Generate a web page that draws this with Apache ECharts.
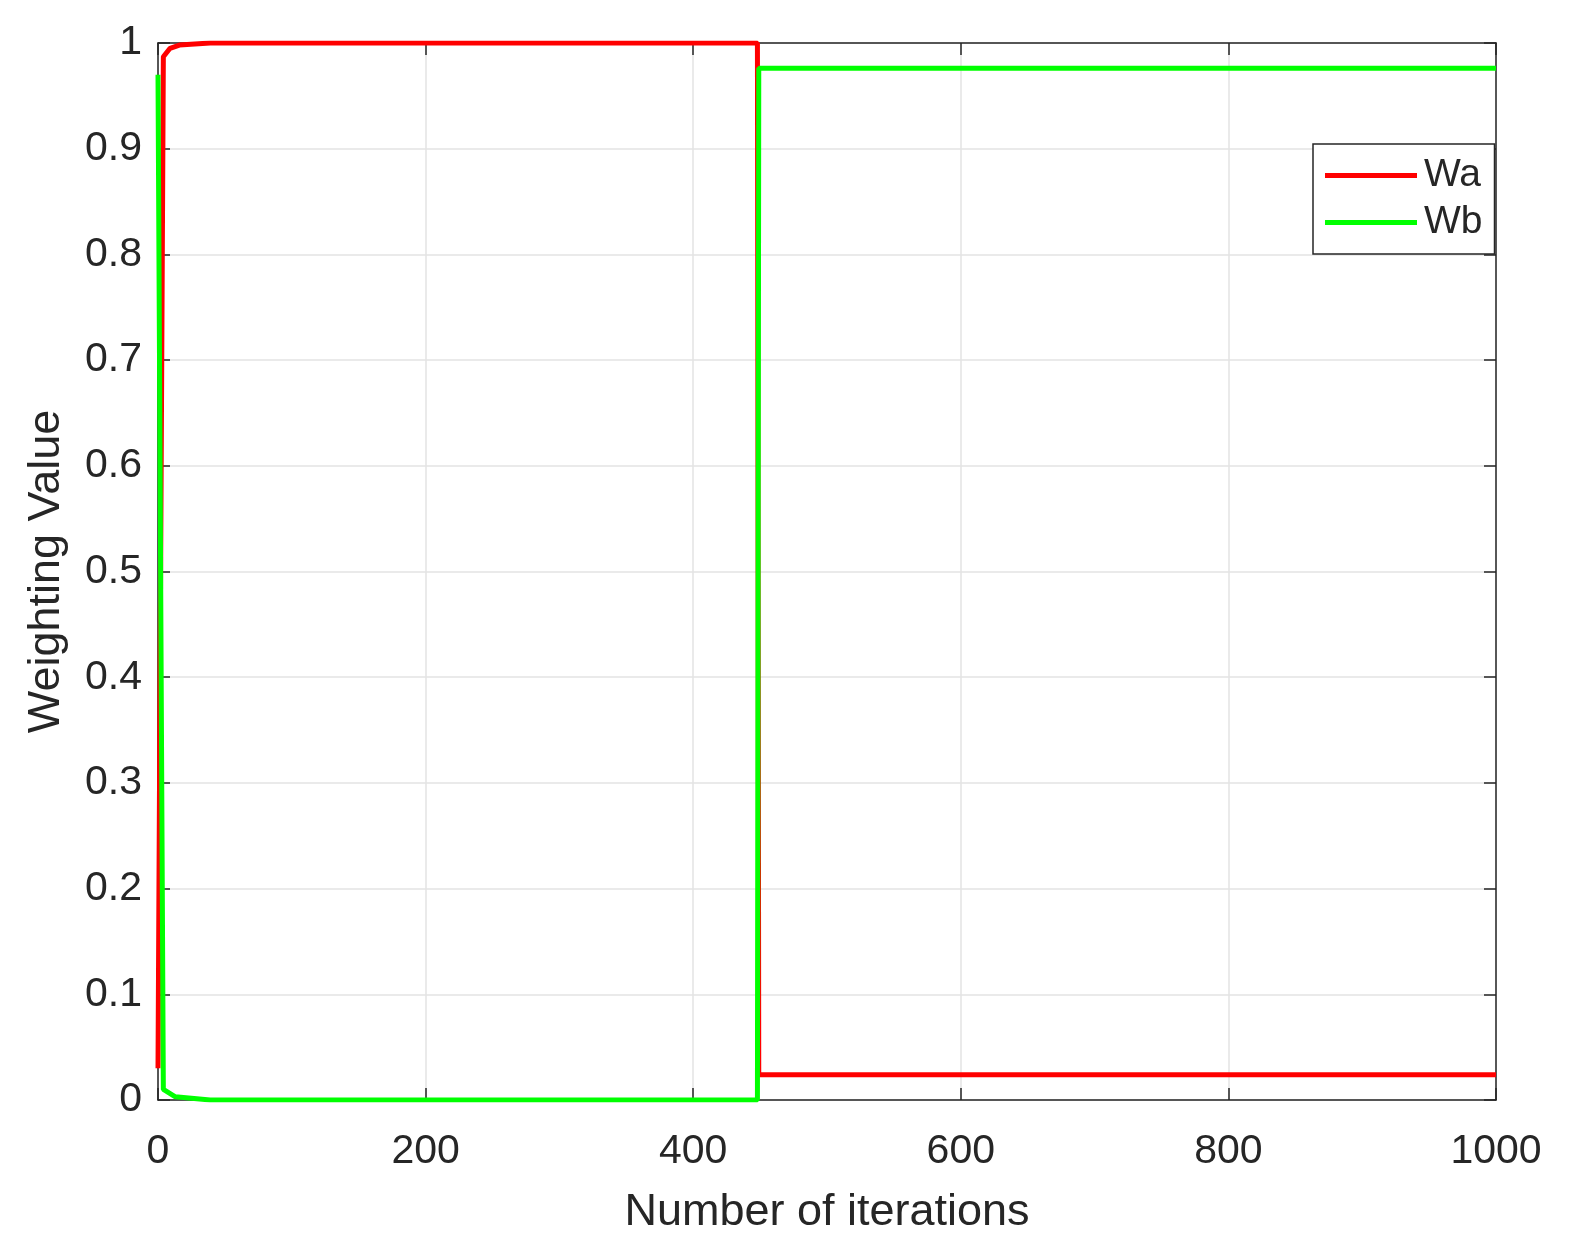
<!DOCTYPE html>
<html style="height: 100%">
<head>
    <meta charset="utf-8">
    <title>Weighting Value</title>
    <script src="https://cdn.jsdelivr.net/npm/echarts@6/dist/echarts.min.js"></script>
</head>
<body style="height: 100%; margin: 0; background: #fff">
    <div id="container" style="width: 1570px; height: 1255px"></div>
    <script type="text/javascript">
        // values: [iteration, weight]
        var waData = [[0, 0.03], [4, 0.987], [9, 0.995], [16, 0.998], [39, 1], [448, 1], [449, 0.024], [1000, 0.024]];
        var wbData = [[0, 0.97], [4, 0.01], [13, 0.003], [39, 0], [448, 0], [449, 0.976], [1000, 0.976]];
        var seriesNames = ['Wa', 'Wb'];
        var seriesColors = ['#ff0000', '#00ff00'];

        var axisColor = '#262626';
        var font = 'Liberation Sans, Arial, Helvetica, sans-serif';

        var myChart = echarts.init(document.getElementById('container'));

        var option = {
            animation: false,
            backgroundColor: '#fff',
            grid: { left: 158, right: 74, top: 43, bottom: 155 },
            legend: {
                left: 1313, top: 144,
                orient: 'vertical',
                data: seriesNames,
                icon: 'rect',
                padding: [12, 12, 12, 12],
                itemGap: 8,
                itemWidth: 92,
                itemHeight: 5,
                backgroundColor: '#fff',
                borderColor: axisColor,
                borderWidth: 1.5,
                borderRadius: 0,
                textStyle: { fontFamily: font, fontSize: 39, color: axisColor, padding: [0, 0, 0, 2] }
            },
            xAxis: [{
                type: 'value', min: 0, max: 1000, interval: 200,
                name: 'Number of iterations', nameLocation: 'middle', nameGap: 90,
                nameTextStyle: { fontFamily: font, fontSize: 45, color: axisColor },
                axisLine: { onZero: false, lineStyle: { color: axisColor, width: 1.5 } },
                axisTick: { inside: true, length: 12, lineStyle: { color: axisColor, width: 1.5 } },
                axisLabel: { fontFamily: font, fontSize: 41, color: axisColor, margin: 31,
                    formatter: function (v) { return String(v); } },
                splitLine: { show: true, lineStyle: { color: '#e3e3e3', width: 1.5 } }
            }, {
                type: 'value', min: 0, max: 1000, interval: 200, position: 'top',
                axisLine: { onZero: false, lineStyle: { color: axisColor, width: 1.5 } },
                axisTick: { inside: true, length: 12, lineStyle: { color: axisColor, width: 1.5 } },
                axisLabel: { show: false },
                splitLine: { show: false }
            }],
            yAxis: [{
                type: 'value', min: 0, max: 1, interval: 0.1,
                name: 'Weighting Value', nameLocation: 'middle', nameGap: 89,
                nameTextStyle: { fontFamily: font, fontSize: 45, color: axisColor },
                axisLine: { show: true, onZero: false, lineStyle: { color: axisColor, width: 1.5 } },
                axisTick: { show: true, inside: true, length: 12, lineStyle: { color: axisColor, width: 1.5 } },
                axisLabel: { fontFamily: font, fontSize: 41, color: axisColor, margin: 16 },
                splitLine: { show: true, lineStyle: { color: '#e3e3e3', width: 1.5 } }
            }, {
                type: 'value', min: 0, max: 1, interval: 0.1, position: 'right',
                axisLine: { show: true, onZero: false, lineStyle: { color: axisColor, width: 1.5 } },
                axisTick: { show: true, inside: true, length: 12, lineStyle: { color: axisColor, width: 1.5 } },
                axisLabel: { show: false },
                splitLine: { show: false }
            }],
            series: [{
                name: seriesNames[0], type: 'line', data: waData,
                symbol: 'none', color: seriesColors[0],
                lineStyle: { width: 5, color: seriesColors[0] }
            }, {
                name: seriesNames[1], type: 'line', data: wbData,
                symbol: 'none', color: seriesColors[1],
                lineStyle: { width: 5, color: seriesColors[1] }
            }]
        };

        myChart.setOption(option);
    </script>
</body>
</html>
